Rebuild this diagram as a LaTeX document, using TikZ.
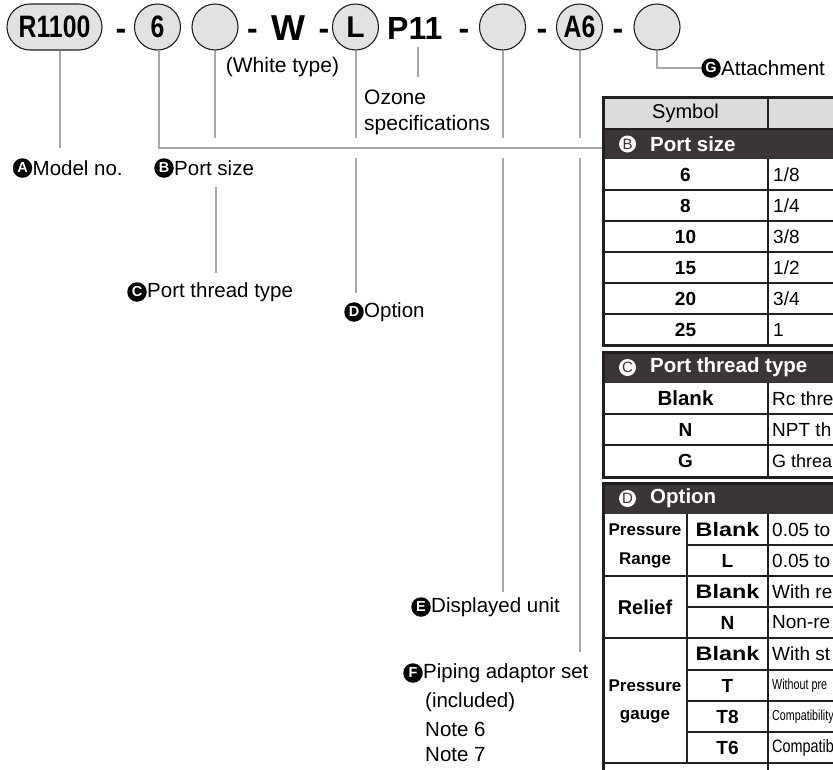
\documentclass[tikz,border=0pt]{standalone}
\usepackage{fontspec}
\setmainfont{Liberation Sans}
\newfontfamily\narrowfont{Liberation Sans}[FakeStretch=0.8]
\newfontfamily\tightfont{Liberation Sans}[FakeStretch=0.74]
\newfontfamily\widefont{Liberation Sans}[FakeStretch=1.2]
\definecolor{connc}{HTML}{A8A8A8}
\definecolor{bubblec}{HTML}{E2E2E2}
\definecolor{hdrdark}{HTML}{3C3536}
\definecolor{hdrlight}{HTML}{DCDCDC}
\definecolor{inkc}{HTML}{231F20}
\begin{document}
\begin{tikzpicture}[x=1pt,y=-1pt,
  bubble/.style={circle,draw=inkc,line width=1.1pt,fill=bubblec,minimum size=46pt,inner sep=0pt,
     font=\narrowfont\fontsize{31}{31}\selectfont\bfseries},
  stadium/.style={rectangle,rounded corners=23pt,draw=inkc,line width=1.1pt,fill=bubblec,
     minimum width=95pt,minimum height=46pt,inner sep=0pt,font=\narrowfont\fontsize{31}{31}\selectfont\bfseries},
  bigtxt/.style={inner sep=0pt,anchor=base,font=\fontsize{32}{32}\selectfont\bfseries},
  conn/.style={draw=connc,line width=2pt},
  lbl/.style={anchor=west,inner sep=0pt,font=\fontsize{20.5}{24}\selectfont},
  dotlbl/.style={circle,fill=black,text=white,minimum size=19.5pt,inner sep=0pt,
     font=\fontsize{14.5}{14.5}\selectfont\bfseries},
  hdrdot/.style={circle,fill=white,text=hdrdark,minimum size=17pt,inner sep=0pt,
     font=\fontsize{15}{15}\selectfont},
  hdrtxt/.style={anchor=west,inner sep=0pt,text=white,font=\fontsize{20.5}{20.5}\selectfont\bfseries},
  symb/.style={inner sep=0pt,font=\fontsize{19}{19}\selectfont\bfseries},
  symw/.style={inner sep=0pt,font=\widefont\fontsize{19.5}{19.5}\selectfont\bfseries},
  symd/.style={inner sep=0pt,font=\fontsize{17}{17}\selectfont\bfseries},
  desc/.style={anchor=west,inner sep=0pt,font=\fontsize{19}{19}\selectfont},
  thinl/.style={draw=inkc,line width=1.1pt},
  thickl/.style={draw=inkc,line width=3pt}
]
\useasboundingbox (0,0) rectangle (833,769);

% ---------- top code row ----------
\node[stadium] (model) at (54.5,27) {R1100};
\node[bigtxt] (h1) at (121,39.5) {-};
\node[bubble] (port) at (157.5,27) {6};
\node[bubble] (white) at (215,27) {};
\node[bigtxt] (h2) at (252.5,39.5) {-};
\node[bigtxt,font=\fontsize{36}{36}\selectfont\bfseries] (wcode) at (288.5,40) {W};
\node[bigtxt] (h3) at (324,39.5) {-};
\node[bubble,font=\fontsize{30}{30}\selectfont\bfseries] (opt) at (355.5,27) {L};
\node[bigtxt,anchor=base west] (ozone) at (387,39.5) {P11};
\node[bigtxt] (h4) at (464,39.5) {-};
\node[bubble] (unit) at (502.5,27) {};
\node[bigtxt] (h5) at (542,39.5) {-};
\node[bubble] (pipe) at (579.5,27) {A6};
\node[bigtxt] (h6) at (618,39.5) {-};
\node[bubble] (att) at (657,27) {};

% ---------- side texts ----------
\node[inner sep=0pt,font=\fontsize{21}{24}\selectfont] (wt) at (282.5,67) {(White type)};
\node[lbl,font=\fontsize{21}{24}\selectfont] (oz1) at (364,97) {Ozone};
\node[lbl,font=\fontsize{21}{24}\selectfont] (oz2) at (364,125) {specifications};

% ---------- labels ----------
\node[dotlbl] (dA) at (22.5,168) {A};
\node[lbl] (tA) at (32.5,168) {Model no.};
\node[dotlbl] (dB) at (164,168) {B};
\node[lbl] (tB) at (174,168) {Port size};
\node[dotlbl] (dC) at (137,292) {C};
\node[lbl] (tC) at (147,292) {Port thread type};
\node[dotlbl] (dD) at (354,312) {D};
\node[lbl] (tD) at (364,312) {Option};
\node[dotlbl] (dE) at (421,607) {E};
\node[lbl] (tE) at (431,607) {Displayed unit};
\node[dotlbl] (dF) at (413,673) {F};
\node[lbl] (tF) at (423,673) {Piping adaptor set};
\node[lbl] (tF2) at (425,702) {(included)};
\node[lbl] (tF3) at (425,729) {Note 6};
\node[lbl] (tF4) at (425,755) {Note 7};
\node[dotlbl] (dG) at (711,68) {G};
\node[lbl] (tG) at (721,68) {Attachment};

% ---------- connectors ----------
\coordinate (bend) at (159,148);
\coordinate (tabB) at (603,148);
\coordinate (gbend) at (657,68);
\draw[conn] (model.south -| 60,0) -- (60,148);
\draw[conn] (port.south -| bend) -- (bend) -- (tabB);
\draw[conn] (white.south) -- (215,138);
\draw[conn] (opt.south) -- (355.5,138);
\draw[conn] (355.5,158) -- (355.5,293);
\draw[conn] (418,47) -- (418,77);
\draw[conn] (216,187) -- (216,273);
\draw[conn] (unit.south) -- (502.5,138);
\draw[conn] (502.5,158) -- (502.5,592);
\draw[conn] (pipe.south) -- (579.5,138);
\draw[conn] (579.5,158) -- (579.5,652);
\draw[conn] (att.south) -- (gbend) -- (dG.west);

% ---------- table B ----------
\fill[hdrlight] (603,97) rectangle (900,129);
\fill[hdrdark] (603,129) rectangle (900,159);
\node[inner sep=0pt,font=\fontsize{20}{20}\selectfont] (symh) at (685.5,113) {Symbol};
\node[hdrdot] (hB) at (627.5,144) {B};
\node[hdrtxt] (hBt) at (650,144) {Port size};
\foreach \y in {190,221,252,283,314} \draw[thinl] (603,\y) -- (900,\y);
\draw[thinl] (603,129) -- (900,129);
\draw[thinl] (768,97) -- (768,129);
\draw[thinl] (768,159) -- (768,345);
\draw[thickl] (900,97) -- (603,97) -- (603,345) -- (900,345);
\node[symb] (b6) at (685.5,175) {6};
\node[symb] (b8) at (685.5,206) {8};
\node[symb] (b10) at (685.5,237) {10};
\node[symb] (b15) at (685.5,268) {15};
\node[symb] (b20) at (685.5,299) {20};
\node[symb] (b25) at (685.5,330) {25};
\node[desc] (d6) at (773,175) {1/8};
\node[desc] (d8) at (773,206) {1/4};
\node[desc] (d10) at (773,237) {3/8};
\node[desc] (d15) at (773,268) {1/2};
\node[desc] (d20) at (773,299) {3/4};
\node[desc] (d25) at (773,330) {1};

% ---------- table C ----------
\fill[hdrdark] (603,352) rectangle (900,383);
\node[hdrdot] (hC) at (627.5,367.5) {C};
\node[hdrtxt] (hCt) at (650,367.5) {Port thread type};
\foreach \y in {414,445} \draw[thinl] (603,\y) -- (900,\y);
\draw[thinl] (768,383) -- (768,477);
\draw[thickl] (900,352) -- (603,352) -- (603,477) -- (900,477);
\node[symb,font=\fontsize{20.5}{20.5}\selectfont\bfseries] (cb) at (685.5,398.5) {Blank};
\node[symb] (cn) at (685.5,429.5) {N};
\node[symb] (cg) at (685.5,461) {G};
\node[desc] (cbd) at (772,398.5) {Rc thre};
\node[desc] (cnd) at (772,429.5) {NPT th};
\node[desc,font=\fontsize{18}{18}\selectfont] (cgd) at (772,461) {G threa};

% ---------- table D ----------
\fill[hdrdark] (603,483) rectangle (900,514);
\node[hdrdot] (hD) at (627.5,498.5) {D};
\node[hdrtxt] (hDt) at (650,498.5) {Option};
\foreach \y in {545,607,670,701,732} \draw[thinl] (687,\y) -- (900,\y);
\foreach \y in {576,638,763} \draw[thinl] (603,\y) -- (900,\y);
\draw[thinl] (687,514) -- (687,763);
\draw[thinl] (768,514) -- (768,780);
\draw[thickl] (900,483) -- (603,483) -- (603,780);
\node[symd] (pr1) at (645,529.5) {Pressure};
\node[symd] (pr2) at (645,560.5) {Range};
\node[symd,font=\fontsize{20}{20}\selectfont\bfseries] (rel) at (645,607) {Relief};
\node[symd] (pg1) at (645,685.5) {Pressure};
\node[symd] (pg2) at (645,716.5) {gauge};
\node[symw] (o1) at (727.5,529.5) {Blank};
\node[symb] (o2) at (727.5,560.5) {L};
\node[symw] (o3) at (727.5,591.5) {Blank};
\node[symb] (o4) at (727.5,622.5) {N};
\node[symw] (o5) at (727.5,654) {Blank};
\node[symb] (o6) at (727.5,685.5) {T};
\node[symb] (o7) at (727.5,716.5) {T8};
\node[symb] (o8) at (727.5,747.5) {T6};
\node[desc] (od1) at (772,529.5) {0.05 to};
\node[desc] (od2) at (772,560.5) {0.05 to};
\node[desc] (od3) at (772,591.5) {With re};
\node[desc] (od4) at (772,622.5) {Non-re};
\node[desc] (od5) at (772,654) {With st};
\node[desc,font=\tightfont\fontsize{14.5}{14.5}\selectfont] (od6) at (772,685.5) {Without pre};
\node[desc,font=\tightfont\fontsize{14.5}{14.5}\selectfont] (od7) at (772,716.5) {Compatibility};
\node[desc,font=\narrowfont\fontsize{18}{18}\selectfont] (od8) at (772,747.5) {Compatib};
\end{tikzpicture}
\end{document}
